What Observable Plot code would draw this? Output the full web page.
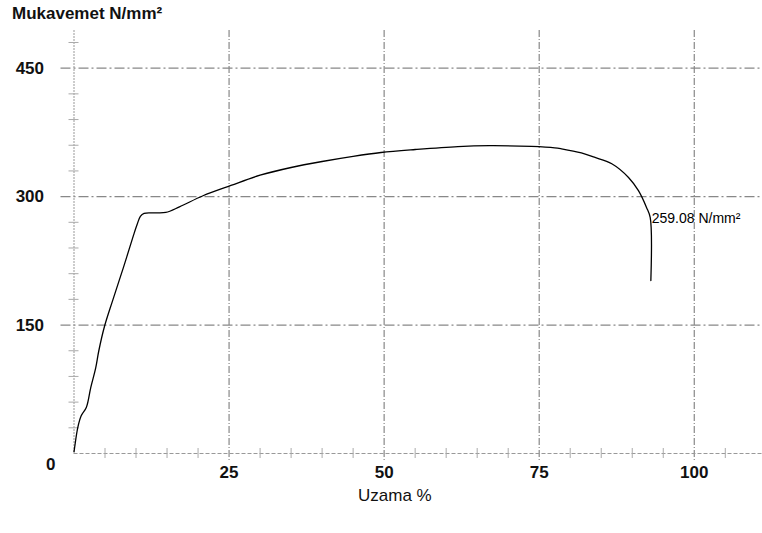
<!DOCTYPE html>
<html><head><meta charset="utf-8">
<script src="https://cdn.jsdelivr.net/npm/d3@7"></script>
<script src="https://cdn.jsdelivr.net/npm/@observablehq/plot@0.6"></script>
<style>
body{margin:0;background:#fff;}
#wrap{position:relative;width:762px;height:533px;font-family:"Liberation Sans",Arial,sans-serif;color:#111;}
#title{position:absolute;left:12px;top:5px;font-size:17px;font-weight:bold;line-height:1;white-space:nowrap;}
#xlabel{position:absolute;left:358px;top:487px;font-size:17px;line-height:1;white-space:nowrap;}
</style></head><body>
<div id="wrap"><div id="chart"></div><div id="title">Mukavemet N/mm²</div><div id="xlabel">Uzama %</div></div>
<script>
// Uzama (elongation, %) and Mukavemet (strength, N/mm²)
const strain = [0, 0.1, 0.6, 1.16, 2.0, 2.7, 3.5, 4.0, 4.9, 6.2, 8.0, 9.6, 10.2, 10.7, 11.3, 13, 14.8, 17, 20.8, 25.3, 30, 35, 40, 45, 49.5, 55, 61.9, 67, 73.75, 77.5, 78.6, 81.8, 83.9, 86.7, 89.4, 91.0, 92.3, 92.9, 93.0];
const stress = [2, 7, 30, 44, 54, 77, 100, 120, 148, 178, 218, 255, 268, 277, 280.5, 281, 281.5, 288, 301, 313, 325, 334, 341, 347, 351.5, 355, 358.5, 359.5, 358.6, 357, 355.8, 351, 346, 338.4, 322.4, 306.9, 287.4, 275.4, 202];

const xMajor = [25, 50, 75, 100];
const yMajor = [150, 300, 450];
const xMinor = [5, 10, 15, 20, 30, 35, 40, 45, 55, 60, 65, 70, 80, 85, 90, 95, 105];
const yMinor = [30, 60, 90, 120, 180, 210, 240, 270, 330, 360, 390, 420, 480];
const yZero = [0];

const annX = [92.9];
const annY = [275.4];
const annText = ["259.08 N/mm²"];

const curve = strain.map((x, i) => ({x, y: stress[i]}));
const ann = annX.map((x, i) => ({x, y: annY[i], t: annText[i]}));

const chart = Plot.plot({
  width: 762, height: 533,
  marginLeft: 73.5, marginRight: 0, marginTop: 30, marginBottom: 80,
  x: {domain: [0, 111]},
  y: {domain: [0, 494]},
  style: {fontFamily: "'Liberation Sans', Arial, sans-serif", background: "white", color: "#111"},
  marks: [
    Plot.ruleY(yMajor, {stroke: "#888", strokeWidth: 1.2, strokeDasharray: "10,3,2,3", insetLeft: -13}),
    Plot.ruleX(xMajor, {stroke: "#888", strokeWidth: 1.2, strokeDasharray: "7,2,1,2", insetBottom: -9}),
    Plot.ruleX([0], {stroke: "#999", strokeDasharray: "2,1"}),
    Plot.ruleY([0], {stroke: "#999", strokeDasharray: "4,2"}),
    Plot.axisX({ticks: xMinor, tickSize: 10, dy: -5, tickFormat: () => "", label: null, stroke: "#aaa"}),
    Plot.axisY({ticks: yMinor, tickSize: 10, dx: 5, tickFormat: () => "", label: null, stroke: "#aaa"}),
    Plot.axisX({ticks: xMajor, tickSize: 0, tickPadding: 12, fontSize: 17, fontWeight: "bold", label: null}),
    Plot.axisY({ticks: yMajor, tickSize: 0, tickPadding: 30, fontSize: 17, fontWeight: "bold", label: null}),
    Plot.axisY({ticks: yZero, tickSize: 0, tickPadding: 18.5, dy: 11, fontSize: 17, fontWeight: "bold", label: null}),
    Plot.line(curve, {x: "x", y: "y", stroke: "black", strokeWidth: 1.3, curve: "catmull-rom"}),
    Plot.text(ann, {x: "x", y: "y", text: "t", dx: 1.5, dy: 1, textAnchor: "start", fontSize: 14, fill: "#000"})
  ]
});
document.getElementById("chart").appendChild(chart);
</script>
</body></html>
